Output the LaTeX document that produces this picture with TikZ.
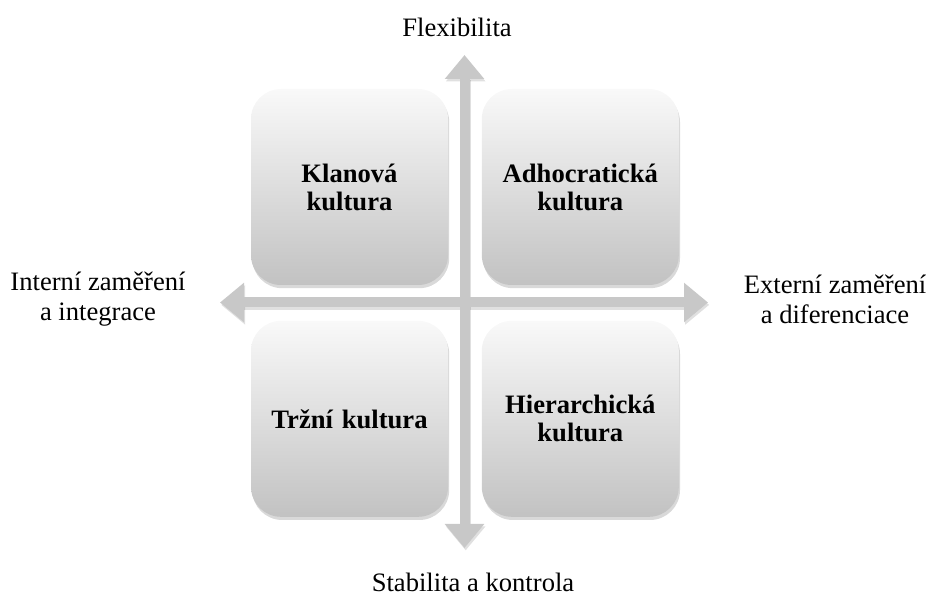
\documentclass[tikz,border=0pt]{standalone}
\usepackage{fontspec}
\setmainfont{Liberation Serif}
\usepackage{tikz}
\usetikzlibrary{arrows.meta, positioning, shadows}
\definecolor{axisgray}{RGB}{200,200,200}
\definecolor{boxtop}{RGB}{249,249,249}
\definecolor{boxbottom}{RGB}{194,194,194}
\tikzset{
  quad/.style={
    rectangle, rounded corners=15pt, minimum width=98.5pt,
    minimum height=98pt, text width=90pt, align=center,
    top color=boxtop, bottom color=boxbottom, draw=none,
    font=\fontsize{13.3}{14}\selectfont\bfseries,
    drop shadow={opacity=0.3, shadow xshift=0.6pt, shadow yshift=-1.6pt}
  },
  axisarr/.style={
    line width=5pt, draw=axisgray,
    {Triangle[width=19pt, length=12pt]}-{Triangle[width=19pt, length=12pt]}
  },
  axisshd/.style={axisarr, draw=black, opacity=0.12,
    transform canvas={xshift=0.6pt, yshift=-1.2pt}},
  lbl/.style={font=\fontsize{13.3}{15}\selectfont, align=center}
}
\begin{document}
\begin{tikzpicture}[x=0.5pt, y=-0.5pt]
  \useasboundingbox (0,0) rectangle (930,597);

  %% ── osy (konce šipek) ───────────────────────────────────
  \coordinate (nTip) at (464.5,55);
  \coordinate (sTip) at (464.5,548);
  \coordinate (wTip) at (220,302.5);
  \coordinate (eTip) at (708,302.5);

  \draw[axisshd] (wTip) -- (eTip);
  \draw[axisshd] (nTip) -- (sTip);
  \draw[axisarr] (wTip) -- (eTip);
  \draw[axisarr] (nTip) -- (sTip);

  %% ── kvadranty ───────────────────────────────────────────
  \node[quad] (clan) at (349.5,187) {Klanová\\kultura};
  \node[quad, right=16.5pt of clan]  (adhoc)  {Adhocratická\\kultura};
  \node[quad, below=17.5pt of clan]  (market) {Tržní kultura};
  \node[quad, below=17.5pt of adhoc] (hier)   {Hierarchická\\kultura};

  %% ── popisky os ──────────────────────────────────────────
  \node[lbl, anchor=base] (flex) at (457,37) {Flexibilita};
  \node[lbl, anchor=base] (stab) at (473,591) {Stabilita a kontrola};
  \node[lbl] (intern) at (98,299)  {Interní zaměření\\a integrace};
  \node[lbl] (extern) at (835,299) {Externí zaměření\\a diferenciace};

\end{tikzpicture}
\end{document}
